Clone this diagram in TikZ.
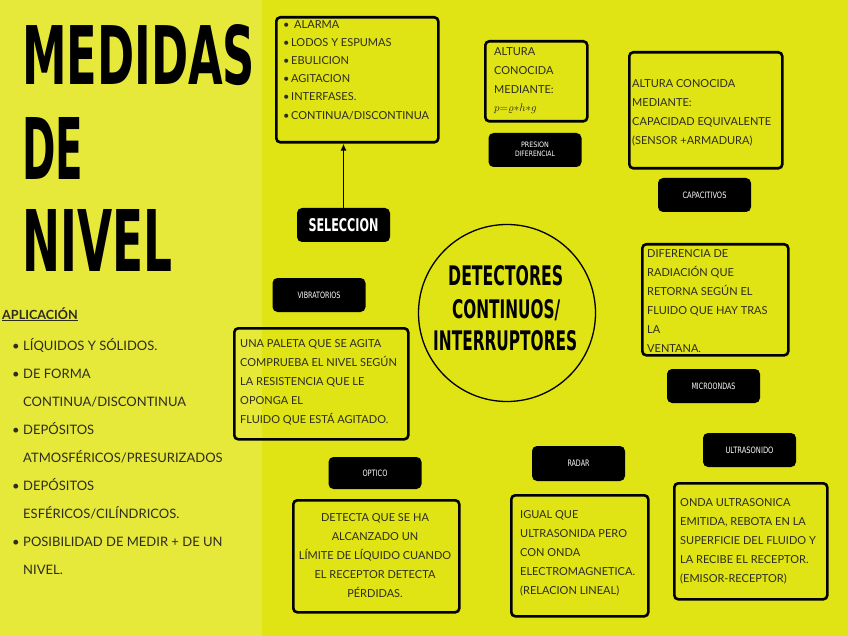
\documentclass[tikz,border=0pt]{standalone}
\usepackage{fontspec}
\usepackage{graphicx}
\usetikzlibrary{arrows.meta}
\setmainfont{Lato}
\newfontfamily\djv{DejaVu Sans}
\definecolor{leftbg}{RGB}{230,232,58}
\definecolor{rightbg}{RGB}{224,227,20}
\definecolor{txt}{RGB}{45,45,30}
\newcommand\fitw[3]{\resizebox{#1pt}{#2pt}{\djv\bfseries #3}}
\newcommand\labw[2]{\resizebox{#1pt}{6.5pt}{\djv #2}}
\newcommand\bul{\makebox[8pt][l]{\textbullet}}
\newcommand\bulL{\makebox[11pt][l]{\textbullet}}
\begin{document}
\begin{tikzpicture}[x=1pt,y=-1pt,
 frame/.style={draw=black, line width=2.6pt, rounded corners=4pt, inner sep=0pt, anchor=north west},
 lbox/.style={fill=black, rounded corners=5pt, inner sep=0pt, text=white, minimum width=93pt, minimum height=34pt},
 btext/.style={inner sep=0pt, anchor=north west, align=left, text=txt, font=\fontsize{11}{19}\selectfont},
 bigt/.style={inner sep=0pt, anchor=base west, text=black}
 ]
\useasboundingbox (0,0) rectangle (848,636);
\fill[leftbg] (0,0) rectangle (262,636);
\fill[rightbg] (262,0) rectangle (848,636);

% title
\node[bigt] (t1) at (22,85) {\fitw{233}{60}{MEDIDAS}};
\node[bigt] (t2) at (22,180) {\fitw{61}{62}{DE}};
\node[bigt] (t3) at (22,272) {\fitw{150}{62}{NIVEL}};

% aplicacion
\node[inner sep=0pt, anchor=base west, text=txt, font=\fontsize{12.6}{28}\selectfont\bfseries] (apl) at (2,319) {\underline{APLICACIÓN}};
\node[inner sep=0pt, anchor=north west, align=left, text=txt, font=\fontsize{13}{28}\selectfont] (lst) at (12,338) {%
\bulL LÍQUIDOS Y SÓLIDOS.\\
\bulL DE FORMA\\
\hspace*{11pt}CONTINUA/DISCONTINUA\\
\bulL DEPÓSITOS\\
\hspace*{11pt}ATMOSFÉRICOS/PRESURIZADOS\\
\bulL DEPÓSITOS\\
\hspace*{11pt}ESFÉRICOS/CILÍNDRICOS.\\
\bulL POSIBILIDAD DE MEDIR + DE UN\\
\hspace*{11pt}NIVEL.};

% frames
\node[frame, minimum width=162pt, minimum height=125pt] (lista) at (275,16) {};
\node[frame, minimum width=102pt, minimum height=80pt] (altura) at (484,40) {};
\node[frame, minimum width=153pt, minimum height=116pt] (capf) at (628,51) {};
\node[frame, minimum width=146pt, minimum height=111pt] (diff) at (641,243) {};
\node[frame, minimum width=153pt, minimum height=116pt] (onda) at (673,482) {};
\node[frame, minimum width=137pt, minimum height=121pt] (igual) at (510,494) {};
\node[frame, minimum width=166pt, minimum height=112pt] (detecta) at (292,499) {};
\node[frame, minimum width=174pt, minimum height=111pt] (paleta) at (233,327) {};

% label boxes
\node[lbox] (selec) at (343.5,225) {\fitw{70}{13}{SELECCION}};
\node[lbox] (presion) at (535,150) {\begin{tabular}{@{}c@{}}\resizebox{28pt}{5.5pt}{\djv PRESION}\\[-3pt]\resizebox{40pt}{5.5pt}{\djv DIFERENCIAL}\end{tabular}};
\node[lbox] (capac) at (704.5,195) {\labw{44}{CAPACITIVOS}};
\node[lbox] (micro) at (713.5,386) {\labw{44}{MICROONDAS}};
\node[lbox] (ultra) at (749.5,450) {\labw{48}{ULTRASONIDO}};
\node[lbox, minimum height=35pt] (radar) at (578.5,463.5) {\labw{22}{RADAR}};
\node[lbox, minimum height=32pt] (optico) at (375,473) {\labw{25}{OPTICO}};
\node[lbox] (vibra) at (319,295) {\labw{43}{VIBRATORIOS}};

% arrow
\draw[-{Latex[length=7pt,width=6pt]}, line width=1.5pt] (selec.north) -- (selec.north |- lista.south);

% circle
\node[circle, draw=black, line width=1.3pt, minimum size=177pt, inner sep=0pt] (det) at (507,313) {};
\node[bigt] (c1) at (448,285) {\fitw{115}{20}{DETECTORES}};
\node[bigt] (c2) at (452,318) {\fitw{108}{19}{CONTINUOS/}};
\node[bigt] (c3) at (433,350) {\fitw{144}{20}{INTERRUPTORES}};

% texts
\node[btext, font=\fontsize{11}{18.2}\selectfont] (listat) at (283,20) {%
\bul\hspace{3pt}ALARMA\\
\bul LODOS Y ESPUMAS\\
\bul EBULICION\\
\bul AGITACION\\
\bul INTERFASES.\\
\bul CONTINUA/DISCONTINUA};
\node[btext] (alturat) at (494,47) {ALTURA\\CONOCIDA\\MEDIANTE:\\[-1pt]$p{=}\varrho{*}h{*}g$};
\node[btext] (capt) at (632,79) {ALTURA CONOCIDA\\MEDIANTE:\\CAPACIDAD EQUIVALENTE\\(SENSOR +ARMADURA)};
\node[btext] (difft) at (647,249) {DIFERENCIA DE\\RADIACIÓN QUE\\RETORNA SEGÚN EL\\FLUIDO QUE HAY TRAS\\LA\\VENTANA.};
\node[btext] (ondat) at (680,498) {ONDA ULTRASONICA\\EMITIDA, REBOTA EN LA\\SUPERFICIE DEL FLUIDO Y\\LA RECIBE EL RECEPTOR.\\(EMISOR-RECEPTOR)};
\node[btext] (igualt) at (520,510) {IGUAL QUE\\ULTRASONIDA PERO\\CON ONDA\\ELECTROMAGNETICA.\\(RELACION LINEAL)};
\node[btext, anchor=north, align=center] (detectat) at (375,513) {DETECTA QUE SE HA\\ALCANZADO UN\\LÍMITE DE LÍQUIDO CUANDO\\EL RECEPTOR DETECTA\\PÉRDIDAS.};
\node[btext] (paletat) at (240,339) {UNA PALETA QUE SE AGITA\\COMPRUEBA EL NIVEL SEGÚN\\LA RESISTENCIA QUE LE\\OPONGA EL\\FLUIDO QUE ESTÁ AGITADO.};
\end{tikzpicture}
\end{document}
